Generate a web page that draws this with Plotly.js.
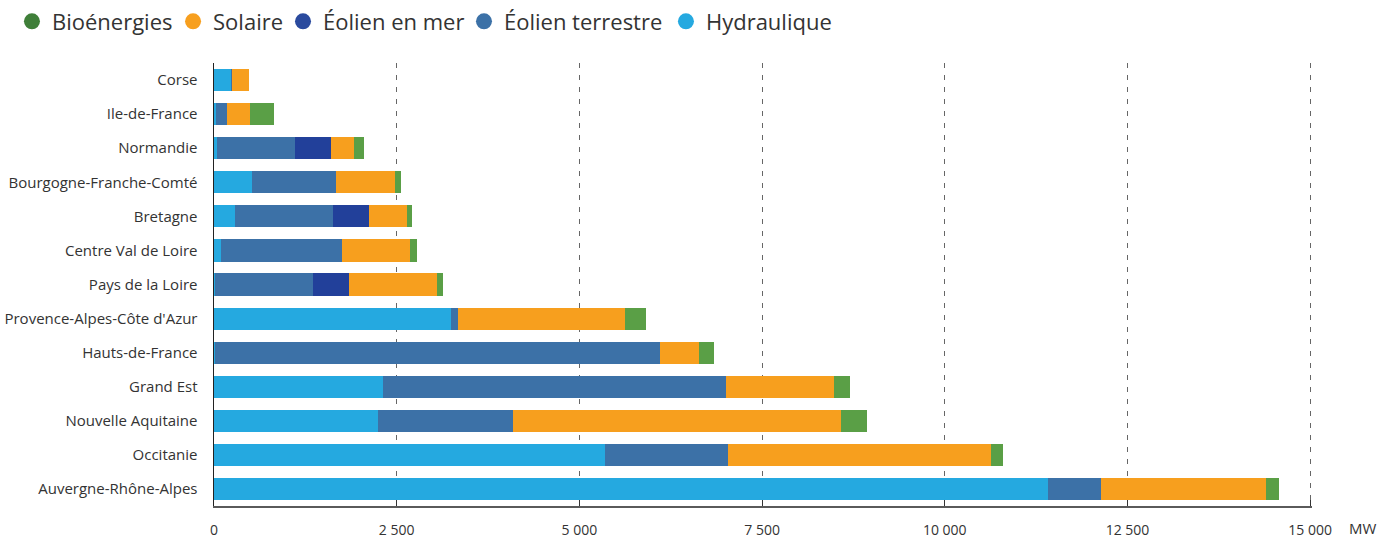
<!DOCTYPE html>
<html>
<head>
<meta charset="utf-8">
<script src="https://cdn.plot.ly/plotly-3.0.1.min.js"></script>
<style>html,body{margin:0;padding:0;background:#fff;}#chart{width:1390px;height:538px;}</style>
</head>
<body>
<div id="chart"></div>
<script>
const regions = ["Corse","Ile-de-France","Normandie","Bourgogne-Franche-Comté","Bretagne","Centre Val de Loire","Pays de la Loire","Provence-Alpes-Côte d'Azur","Hauts-de-France","Grand Est","Nouvelle Aquitaine","Occitanie","Auvergne-Rhône-Alpes"];
const hydraulique = [237, 27, 41, 520, 287, 96, 14, 3237, 12, 2308, 2241, 5344, 11407];
const eolienTerrestre = [10, 150, 1067, 1149, 1341, 1655, 1341, 98, 6085, 4693, 1846, 1685, 734];
const eolienMer = [0, 0, 493, 0, 493, 0, 493, 0, 0, 0, 0, 0, 0];
const solaire = [233, 315, 315, 807, 520, 930, 1204, 2284, 534, 1478, 4488, 3598, 2249];
const bioenergies = [0, 328, 137, 82, 68, 96, 82, 287, 205, 219, 356, 164, 177];
const seriesNames = ["Hydraulique","Éolien terrestre","Éolien en mer","Solaire","Bioénergies"];
const tickVals = [0, 2500, 5000, 7500, 10000, 12500, 15000];
const tickText = ["0","2 500","5 000","7 500","10 000","12 500","15 000"];

const colors = ["#25A9E0", "#3C71A7", "#22409A", "#F79F1E", "#5A9F46"];
const legendColors = ["#25A9E0", "#3C71A7", "#2A4A9E", "#F79F1E", "#3F7F39"];
const seriesData = [hydraulique, eolienTerrestre, eolienMer, solaire, bioenergies];

// one legend per entry so each item sits where the reference has it
const legendIds = ['legend5', 'legend4', 'legend3', 'legend2', 'legend'];
const legendX = [0.4791, 0.3338, 0.2036, 0.1245, 0.0086];

const traces = [];
seriesData.forEach((vals, i) => {
  traces.push({
    type: 'bar', orientation: 'h', x: vals, y: regions, name: seriesNames[i],
    marker: {color: colors[i], line: {width: 0}}, showlegend: false
  });
});
seriesData.forEach((vals, i) => {
  traces.push({
    type: 'scatter', mode: 'markers', x: [null], y: [null], name: seriesNames[i],
    legend: legendIds[i],
    marker: {color: legendColors[i], size: 16, symbol: 'circle'}, showlegend: true, hoverinfo: 'skip'
  });
});

const layout = {
  width: 1390, height: 538,
  margin: {l: 214, r: 78, t: 63, b: 32},
  paper_bgcolor: '#fff', plot_bgcolor: '#fff',
  barmode: 'stack', bargap: 0.35,
  font: {family: 'Open Sans, sans-serif', color: '#333', size: 14},
  showlegend: true,
  xaxis: {
    range: [0, 15025], tickvals: tickVals, ticktext: tickText,
    showgrid: true, gridcolor: '#666', griddash: '5px,7px', gridwidth: 1,
    zeroline: false, showline: true, linecolor: '#5a5a5a', linewidth: 2,
    ticks: 'inside', ticklen: 6, tickcolor: '#333', tickwidth: 1,
    ticklabelstandoff: 10, tickfont: {size: 14, color: '#333'},
    fixedrange: true
  },
  yaxis: {
    type: 'category', range: [12.5, -0.5],
    showgrid: false, zeroline: false,
    showline: true, linecolor: '#222', linewidth: 1.5, layer: 'below traces',
    ticks: '', ticklabelstandoff: 12, tickfont: {size: 15, color: '#333'},
    fixedrange: true
  },
  annotations: [{
    text: 'MW', xref: 'paper', yref: 'paper', x: 1, y: 0,
    xanchor: 'left', yanchor: 'middle', xshift: 35, yshift: -22,
    showarrow: false, font: {size: 15, color: '#333'}
  }]
};
legendIds.forEach((id, i) => {
  layout[id] = {
    orientation: 'h', xref: 'container', yref: 'container',
    x: legendX[i], y: 0.999, xanchor: 'left', yanchor: 'top',
    font: {size: 22, color: '#333'}, itemclick: false, bgcolor: 'rgba(0,0,0,0)'
  };
});

Plotly.newPlot('chart', traces, layout, {displayModeBar: false, staticPlot: true});
</script>
</body>
</html>
